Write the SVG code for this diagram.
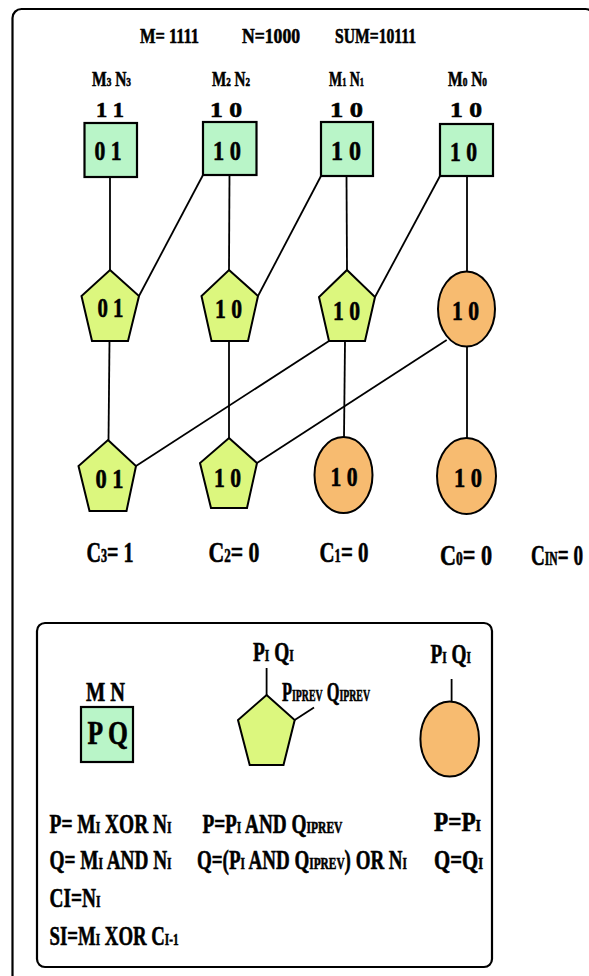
<svg xmlns="http://www.w3.org/2000/svg" width="589" height="976" viewBox="0 0 589 976">
  <style>
    text { font-family: "Liberation Serif", "Times New Roman", serif; font-weight: bold; fill: #000; stroke: #000; stroke-width: 0.6; }
    .frame { fill: none; stroke: #000; stroke-width: 2.2; }
    .sq { fill: #b9f5c8; stroke: #000; stroke-width: 2.2; }
    .pent { fill: #dcf77e; stroke: #000; stroke-width: 2; }
    .ell { fill: #f7bb70; stroke: #000; stroke-width: 2; }
    .conn line, .stub { stroke: #000; stroke-width: 1.8; }
    .h { font-size: 21px; }
    .v { font-size: 22px; }
    .n { font-size: 27px; }
    .c { font-size: 30px; }
    .f { font-size: 28px; }
    .s { font-size: 0.6em; }
  </style>

  <!-- outer frame (right edge runs just past the canvas) -->
  <rect class="frame" x="12.5" y="9" width="582" height="1000" rx="9"/>

  <!-- header -->
  <g id="header">
    <text class="h" x="140" y="43" textLength="59" lengthAdjust="spacingAndGlyphs">M= 1111</text>
    <text class="h" x="242" y="43" textLength="58" lengthAdjust="spacingAndGlyphs">N=1000</text>
    <text class="h" x="335" y="43" textLength="81" lengthAdjust="spacingAndGlyphs">SUM=10111</text>
  </g>

  <!-- connectors -->
  <g id="connectors" class="conn">
    <line x1="110" y1="177" x2="110" y2="270"/>
    <line x1="229.5" y1="175" x2="229" y2="270"/>
    <line x1="346.5" y1="176" x2="347" y2="270"/>
    <line x1="467" y1="176" x2="467" y2="271.5"/>
    <line x1="203" y1="175" x2="139" y2="296"/>
    <line x1="321" y1="176" x2="258" y2="296"/>
    <line x1="440" y1="176" x2="375" y2="297"/>
    <line x1="109.5" y1="341" x2="108.5" y2="440"/>
    <line x1="229" y1="341" x2="229" y2="438"/>
    <line x1="345" y1="341" x2="344" y2="437"/>
    <line x1="467" y1="346.5" x2="467" y2="438"/>
    <line x1="329" y1="341" x2="136" y2="466"/>
    <line x1="446.7" y1="340" x2="257" y2="463"/>
  </g>

  <!-- input cells -->
  <g id="cell3">
    <text class="h" x="92" y="86" textLength="39" lengthAdjust="spacingAndGlyphs">M<tspan class="s">3</tspan> N<tspan class="s">3</tspan></text>
    <text class="v" x="96" y="117" textLength="28" lengthAdjust="spacingAndGlyphs">1 1</text>
    <rect class="sq" x="84.5" y="123" width="52.5" height="54"/>
    <text class="n" x="94.5" y="160" textLength="27" lengthAdjust="spacingAndGlyphs">0 1</text>
  </g>
  <g id="cell2">
    <text class="h" x="212" y="86" textLength="38" lengthAdjust="spacingAndGlyphs">M<tspan class="s">2</tspan> N<tspan class="s">2</tspan></text>
    <text class="v" x="210" y="117" textLength="32" lengthAdjust="spacingAndGlyphs">1 0</text>
    <rect class="sq" x="203" y="122" width="53.5" height="53"/>
    <text class="n" x="213" y="160" textLength="28" lengthAdjust="spacingAndGlyphs">1 0</text>
  </g>
  <g id="cell1">
    <text class="h" x="329" y="86" textLength="35" lengthAdjust="spacingAndGlyphs">M<tspan class="s">1</tspan> N<tspan class="s">1</tspan></text>
    <text class="v" x="330" y="117" textLength="33" lengthAdjust="spacingAndGlyphs">1 0</text>
    <rect class="sq" x="321" y="122" width="52" height="54"/>
    <text class="n" x="331" y="160" textLength="30" lengthAdjust="spacingAndGlyphs">1 0</text>
  </g>
  <g id="cell0">
    <text class="h" x="448" y="86" textLength="39" lengthAdjust="spacingAndGlyphs">M<tspan class="s">0</tspan> N<tspan class="s">0</tspan></text>
    <text class="v" x="450" y="117" textLength="32" lengthAdjust="spacingAndGlyphs">1 0</text>
    <rect class="sq" x="440" y="124" width="53" height="52"/>
    <text class="n" x="450" y="161" textLength="27" lengthAdjust="spacingAndGlyphs">1 0</text>
  </g>

  <!-- first combining row -->
  <g id="r1n3">
    <polygon class="pent" points="110,270 139,296 128,341 92,341 81.5,296"/>
    <text class="n" x="97.5" y="317" textLength="26" lengthAdjust="spacingAndGlyphs">0 1</text>
  </g>
  <g id="r1n2">
    <polygon class="pent" points="229,270 258,296 248,341 211.5,341 201.5,296"/>
    <text class="n" x="215" y="318" textLength="27" lengthAdjust="spacingAndGlyphs">1 0</text>
  </g>
  <g id="r1n1">
    <polygon class="pent" points="347,270 375,297 365,341 329,341 319,297"/>
    <text class="n" x="333" y="320" textLength="27" lengthAdjust="spacingAndGlyphs">1 0</text>
  </g>
  <g id="r1n0">
    <ellipse class="ell" cx="466.5" cy="309" rx="28.5" ry="37.5"/>
    <text class="n" x="452" y="320" textLength="27" lengthAdjust="spacingAndGlyphs">1 0</text>
  </g>

  <!-- second combining row -->
  <g id="r2n3">
    <polygon class="pent" points="108,440 136,466 126.5,511 89.5,511 78.5,466"/>
    <text class="n" x="95.5" y="488" textLength="28" lengthAdjust="spacingAndGlyphs">0 1</text>
  </g>
  <g id="r2n2">
    <polygon class="pent" points="229,438 257,463 247,508 211,508 200,463"/>
    <text class="n" x="214" y="487" textLength="27" lengthAdjust="spacingAndGlyphs">1 0</text>
  </g>
  <g id="r2n1">
    <ellipse class="ell" cx="343.5" cy="475" rx="29" ry="38"/>
    <text class="n" x="330.5" y="486" textLength="27" lengthAdjust="spacingAndGlyphs">1 0</text>
  </g>
  <g id="r2n0">
    <ellipse class="ell" cx="466.5" cy="476" rx="29.5" ry="38"/>
    <text class="n" x="454" y="487" textLength="28" lengthAdjust="spacingAndGlyphs">1 0</text>
  </g>

  <!-- carries -->
  <g id="carries">
    <text class="c" x="86.5" y="562" textLength="47" lengthAdjust="spacingAndGlyphs">C<tspan class="s">3</tspan>= 1</text>
    <text class="c" x="208.5" y="562" textLength="51" lengthAdjust="spacingAndGlyphs">C<tspan class="s">2</tspan>= 0</text>
    <text class="c" x="319.5" y="562" textLength="49" lengthAdjust="spacingAndGlyphs">C<tspan class="s">1</tspan>= 0</text>
    <text class="c" x="440" y="565" textLength="52" lengthAdjust="spacingAndGlyphs">C<tspan class="s">0</tspan>= 0</text>
    <text class="c" x="531" y="565" textLength="52" lengthAdjust="spacingAndGlyphs">C<tspan class="s">IN</tspan>= 0</text>
  </g>

  <!-- legend -->
  <g id="legend">
    <rect class="frame" x="37" y="623" width="455" height="344" rx="8"/>

    <g id="legend-cell">
      <text class="n" x="86" y="701" textLength="39" lengthAdjust="spacingAndGlyphs">M  N</text>
      <rect class="sq" x="81" y="707" width="52" height="55"/>
      <text x="87.5" y="744" font-size="34" textLength="40.5" lengthAdjust="spacingAndGlyphs">P  Q</text>
    </g>

    <g id="legend-pent">
      <line class="stub" x1="266.6" y1="668" x2="266.6" y2="695"/>
      <line class="stub" x1="294.7" y1="720" x2="314" y2="707.5"/>
      <polygon class="pent" points="266.6,695 294.7,720 283.5,765 249.7,765 238,720"/>
      <text class="n" x="253" y="661" textLength="40.7" lengthAdjust="spacingAndGlyphs">P<tspan class="s">I</tspan> Q<tspan class="s">I</tspan></text>
      <text class="n" x="282" y="701" textLength="88" lengthAdjust="spacingAndGlyphs">P<tspan class="s">IPREV</tspan> Q<tspan class="s">IPREV</tspan></text>
    </g>

    <g id="legend-ell">
      <line class="stub" x1="451.6" y1="679" x2="451.6" y2="701.5"/>
      <ellipse class="ell" cx="449.7" cy="739" rx="29.3" ry="37.5"/>
      <text class="n" x="430.6" y="663" textLength="40.4" lengthAdjust="spacingAndGlyphs">P<tspan class="s">I</tspan> Q<tspan class="s">I</tspan></text>
    </g>

    <g id="formulas">
      <text class="f" x="49.6" y="833" textLength="122" lengthAdjust="spacingAndGlyphs">P= M<tspan class="s">I</tspan> XOR N<tspan class="s">I</tspan></text>
      <text class="f" x="202.4" y="833" textLength="140" lengthAdjust="spacingAndGlyphs">P=P<tspan class="s">I</tspan> AND Q<tspan class="s">IPREV</tspan></text>
      <text class="f" x="434" y="831" textLength="47" lengthAdjust="spacingAndGlyphs">P=P<tspan class="s">I</tspan></text>
      <text class="f" x="49.6" y="869" textLength="122" lengthAdjust="spacingAndGlyphs">Q= M<tspan class="s">I</tspan> AND N<tspan class="s">I</tspan></text>
      <text class="f" x="197" y="869" textLength="210" lengthAdjust="spacingAndGlyphs">Q=(P<tspan class="s">I</tspan> AND Q<tspan class="s">IPREV</tspan>) OR N<tspan class="s">I</tspan></text>
      <text class="f" x="434" y="869" textLength="49" lengthAdjust="spacingAndGlyphs">Q=Q<tspan class="s">I</tspan></text>
      <text class="f" x="49.6" y="907" textLength="51" lengthAdjust="spacingAndGlyphs">CI=N<tspan class="s">I</tspan></text>
      <text class="f" x="49.6" y="945" textLength="129" lengthAdjust="spacingAndGlyphs">SI=M<tspan class="s">I</tspan> XOR C<tspan class="s">I-1</tspan></text>
    </g>
  </g>
</svg>
